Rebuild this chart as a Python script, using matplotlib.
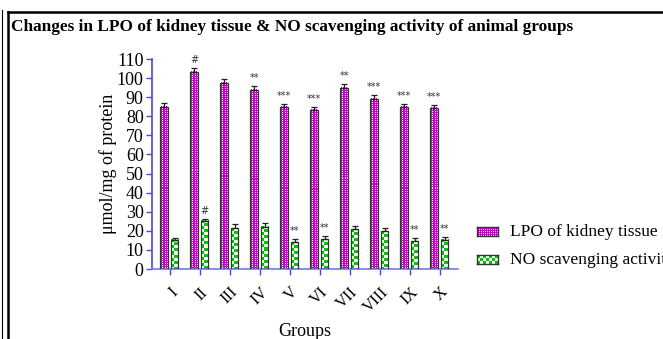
import numpy as np
import matplotlib
matplotlib.use("Agg")
import matplotlib.pyplot as plt
from matplotlib.lines import Line2D

# 데이터
groups = ["I", "II", "III", "IV", "V", "VI", "VII", "VIII", "IX", "X"]
lpo = [85, 103.3, 97.6, 94, 85, 83.3, 95, 89.3, 85, 84.5]
lpo_err = [2, 2, 2, 2, 1.5, 1.5, 2, 2, 1.5, 1.5]
no_act = [15.2, 25.2, 21.4, 22.1, 14.1, 15.6, 20.9, 19.8, 14.6, 15.3]
no_err = [1.2, 1.2, 2, 2, 1.5, 1.5, 1.8, 1.8, 1.5, 1.5]
lpo_sig = ["", "#", "", "**", "***", "***", "**", "***", "***", "***"]
no_sig = ["", "#", "", "", "**", "**", "", "", "**", "**"]

W, H = 663, 339
SERIF = "Liberation Serif"
AX_BLUE = "#4a4ad8"
PINK = (0.80, 0.0, 0.80)
GREEN = (0.0, 0.78, 0.0)


def dot_pattern(nx, ny, color):
    # 마젠타 바탕에 작은 흰 점
    img = np.ones((ny, nx, 3))
    img[:, :] = color
    img[::2, ::2] = 1.0
    return img


def checker_pattern(nx, ny, color, cell=3):
    yy, xx = np.mgrid[0:ny, 0:nx]
    mask = ((xx // cell) + (yy // cell)) % 2 == 0
    img = np.ones((ny, nx, 3))
    img[mask] = color
    return img


fig = plt.figure(figsize=(W / 100, H / 100), dpi=100)

# 바깥 테두리
fig.add_artist(Line2D([1.5 / W, 1.5 / W], [0, 1 - 10 / H], color="black", lw=0.8))
fig.add_artist(Line2D([8 / W, 8 / W], [0, 1 - 12 / H], color="black", lw=1.8))
fig.add_artist(Line2D([8 / W, 1], [1 - 12 / H, 1 - 12 / H], color="black", lw=1.8))

fig.text(11 / W, 1 - 27 / H, "Changes in LPO of kidney tissue & NO scavenging activity of animal groups",
         fontsize=12.4, fontweight="bold", family=SERIF, va="center", ha="left")

ax_l, ax_r, ax_t, ax_b = 152, 458, 59, 269
ax = fig.add_axes([ax_l / W, 1 - ax_b / H, (ax_r - ax_l) / W, (ax_b - ax_t) / H])
px_per_x = (ax_r - ax_l) / 10.2
px_per_y = (ax_b - ax_t) / 110

x = np.arange(len(groups))
bw = 0.24
b1 = ax.bar(x - 0.2, lpo, bw, facecolor="none", edgecolor="#333333", lw=0.9, zorder=3)
b2 = ax.bar(x + 0.15, no_act, bw, facecolor="none", edgecolor="#333333", lw=0.9, zorder=3)

# 막대 무늬 채우기
for bars, maker, col in [(b1, dot_pattern, PINK), (b2, checker_pattern, GREEN)]:
    for b in bars:
        x0, w, h = b.get_x(), b.get_width(), b.get_height()
        nx = max(1, int(round(w * px_per_x)))
        ny = max(1, int(round(h * px_per_y)))
        ax.imshow(maker(nx, ny, col), extent=[x0, x0 + w, 0, h],
                  interpolation="nearest", aspect="auto", zorder=2)

ax.errorbar(x - 0.2, lpo, yerr=[np.zeros(len(lpo)), lpo_err], fmt="none",
            ecolor="#222222", elinewidth=0.9, capsize=2.5, capthick=0.9, zorder=4)
ax.errorbar(x + 0.15, no_act, yerr=[np.zeros(len(no_act)), no_err], fmt="none",
            ecolor="#222222", elinewidth=0.9, capsize=2.5, capthick=0.9, zorder=4)

for i in range(len(groups)):
    if lpo_sig[i]:
        ax.text(x[i] - 0.2, lpo[i] + lpo_err[i] + 1.5, lpo_sig[i], ha="center", va="bottom",
                fontsize=7, color="#333333")
    if no_sig[i]:
        ax.text(x[i] + 0.15, no_act[i] + no_err[i] + 1.5, no_sig[i], ha="center", va="bottom",
                fontsize=7, color="#333333")

ax.set_xlim(-0.6, 9.6)
ax.set_ylim(0, 110)
ax.set_yticks(np.arange(0, 111, 10))
ax.set_xticks(x)
ax.set_xticklabels(groups, rotation=45, ha="right", rotation_mode="anchor", family=SERIF, fontsize=12)
for lab in ax.get_yticklabels():
    lab.set_family(SERIF)
    lab.set_fontsize(13)
ax.tick_params(axis="both", colors=AX_BLUE, labelcolor="black", length=4, width=1)
ax.tick_params(axis="x", pad=7)
ax.tick_params(axis="y", pad=2)
for s in ["top", "right"]:
    ax.spines[s].set_visible(False)
ax.spines["left"].set_color(AX_BLUE)
ax.spines["bottom"].set_color("#7777e8")
ax.spines["left"].set_linewidth(1.2)
ax.spines["bottom"].set_linewidth(1.2)
ax.set_facecolor("none")

ax.set_ylabel("μmol/mg of protein", family=SERIF, fontsize=13, labelpad=0)
ax.set_xlabel("Groups", family=SERIF, fontsize=13, labelpad=5)

# 범례
for y0, img, label in [(227, dot_pattern(21, 9, PINK), "LPO of kidney tissue"),
                       (255, checker_pattern(21, 9, GREEN), "NO scavenging activity")]:
    lax = fig.add_axes([477 / W, 1 - (y0 + 9) / H, 21 / W, 9 / H])
    lax.imshow(img, extent=[0, 1, 0, 1], interpolation="nearest", aspect="auto")
    lax.set_xticks([])
    lax.set_yticks([])
    for s in lax.spines.values():
        s.set_linewidth(1)
        s.set_color("#333333")
    fig.text(510 / W, 1 - (y0 + 4.5) / H, label, family=SERIF, fontsize=12.5, va="center", ha="left")

fig.savefig("out.png", dpi=100)
